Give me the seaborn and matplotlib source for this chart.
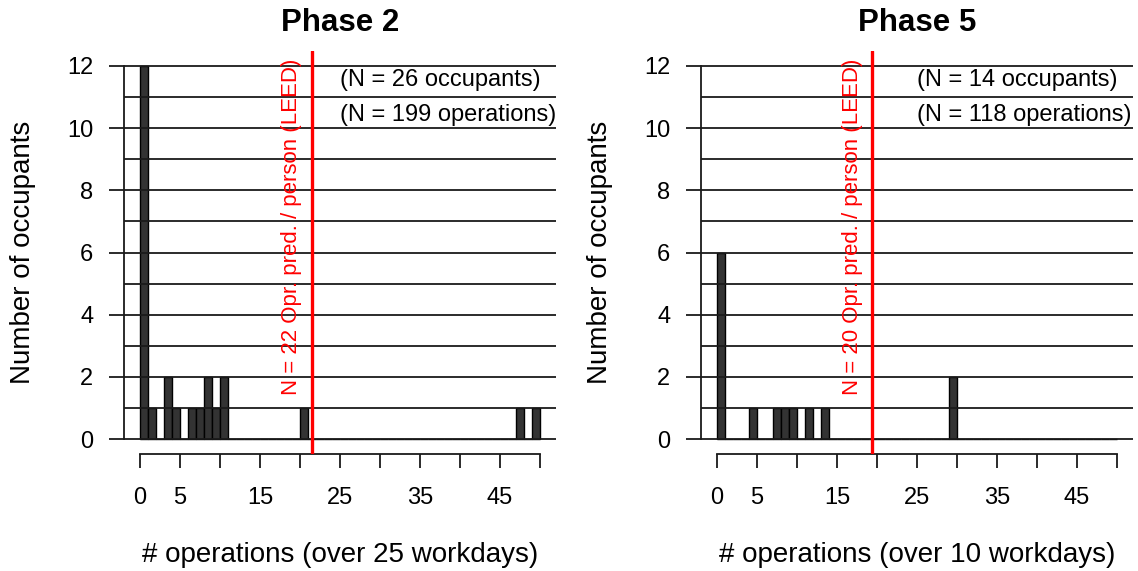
import numpy as np
import pandas as pd
import matplotlib
matplotlib.use("Agg")
import matplotlib.pyplot as plt
import seaborn as sns

# ---- data ----
p2_bins = [0, 1, 3, 4, 6, 7, 8, 9, 10, 20, 47, 49]
p2_counts = [12, 1, 2, 1, 1, 1, 2, 1, 2, 1, 1, 1]
p5_bins = [0, 4, 7, 8, 9, 11, 13, 29]
p5_counts = [6, 1, 1, 1, 1, 1, 1, 2]
p2_leed = 21.5
p5_leed = 19.4
p2_leed_label = "N = 22 Opr. pred. / person (LEED)"
p5_leed_label = "N = 20 Opr. pred. / person (LEED)"
p2_notes = ["(N = 26 occupants)", "(N = 199 operations)"]
p5_notes = ["(N = 14 occupants)", "(N = 118 operations)"]
titles = ["Phase 2", "Phase 5"]
xlabels = ["# operations (over 25 workdays)", "# operations (over 10 workdays)"]
ylabel = "Number of occupants"
xticks = [0, 5, 10, 15, 20, 25, 30, 35, 40, 45, 50]
xticklabels = ["0", "5", "", "15", "", "25", "", "35", "", "45", ""]
yticks = [0, 2, 4, 6, 8, 10, 12]

sns.set_style("white")
plt.rcParams["font.family"] = ["Liberation Sans", "DejaVu Sans"]
plt.rcParams["text.color"] = "black"
plt.rcParams["axes.labelcolor"] = "black"
plt.rcParams["xtick.color"] = "black"
plt.rcParams["ytick.color"] = "black"

W, H = 1138, 571
fig = plt.figure(figsize=(W / 100, H / 100), dpi=100)

panels = [
    (124, p2_bins, p2_counts, p2_leed, p2_leed_label, p2_notes),
    (701, p5_bins, p5_counts, p5_leed, p5_leed_label, p5_notes),
]
for i, (left, bins, counts, leed, leed_lab, notes) in enumerate(panels):
    ax = fig.add_axes([left / W, (H - 454) / H, 432 / W, 403 / H])
    df = pd.DataFrame({"ops": np.array(bins, dtype=float) + 0.5,
                       "n": np.array(counts, dtype=float)})
    sns.histplot(data=df, x="ops", weights="n", binwidth=1, binrange=(0, 50),
                 ax=ax, color="#333333", alpha=1, edgecolor="black",
                 linewidth=1.0, zorder=2)
    ax.set_xlim(-2, 52)
    ax.set_ylim(-0.48, 12.48)
    for y in range(0, 13):
        ax.axhline(y, color="#1a1a1a", lw=1.3, zorder=3)
    ax.axvline(leed, color="red", lw=2.4, zorder=4)
    ax.text(leed - 2.5, 6.84, leed_lab, rotation=90, color="red",
            ha="center", va="center", fontsize=16, zorder=5)
    ax.text(25, 11.55, notes[0], ha="left", va="center", fontsize=17,
            color="black", zorder=5)
    ax.text(25, 10.42, notes[1], ha="left", va="center", fontsize=17,
            color="black", zorder=5)

    for s in ["top", "right"]:
        ax.spines[s].set_visible(False)
    ax.spines["left"].set_bounds(0, 12)
    ax.spines["bottom"].set_bounds(0, 50)
    for s in ["left", "bottom"]:
        ax.spines[s].set_color("#1a1a1a")
        ax.spines[s].set_linewidth(1.3)
    ax.set_xticks(xticks)
    ax.set_xticklabels(xticklabels)
    ax.set_yticks(yticks)
    ax.tick_params(axis="x", direction="out", length=10, width=1.3,
                   color="#1a1a1a", labelcolor="black", pad=14,
                   labelsize=17, bottom=True)
    ax.tick_params(axis="y", direction="out", length=11, width=1.3,
                   color="#1a1a1a", labelcolor="black", pad=11,
                   labelsize=17, left=True)
    ax.set_xlabel("")
    ax.set_ylabel("")

    cx = (left + 216) / W
    fig.text(cx, 1 - 23 / H, titles[i], ha="center", va="center",
             fontsize=22.5, fontweight="bold", color="black")
    fig.text(cx, 1 - 555 / H, xlabels[i], ha="center", va="center",
             fontsize=20, color="black")
    fig.text((left - 101) / W, 1 - 252 / H, ylabel, rotation=90,
             ha="center", va="center", fontsize=20, color="black")

fig.savefig("out.png", dpi=100)
